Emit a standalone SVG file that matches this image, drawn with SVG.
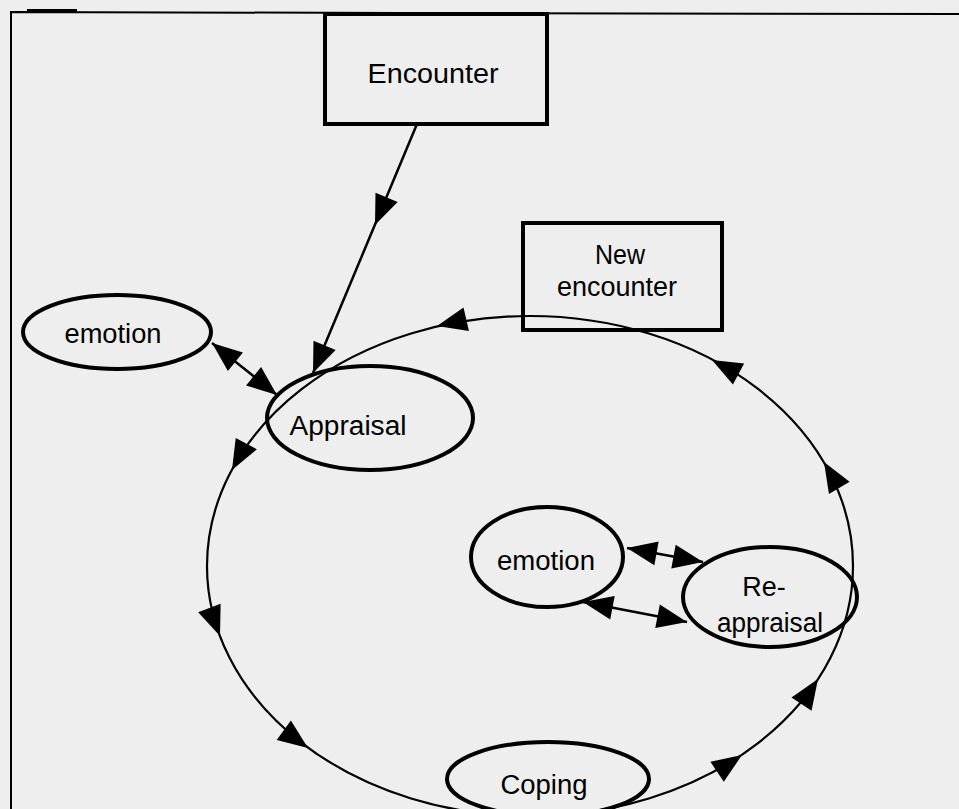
<svg xmlns="http://www.w3.org/2000/svg" xmlns:xlink="http://www.w3.org/1999/xlink" width="959" height="809" viewBox="0 0 959 809">
<style>
.bg{fill:#eeeeee}
.node{fill:none;stroke:#000;stroke-width:4}
.lbl{font-family:"Liberation Sans",Arial,sans-serif;font-size:27px;fill:#000;text-anchor:middle}
.edge{fill:none;stroke:#000;stroke-width:2.5}
.thin{fill:none;stroke:#000;stroke-width:2.2}
.frame{fill:none;stroke:#000;stroke-width:2}
</style>
<defs>
<path id="ah" d="M0,0 L-30,-12 L-30,12 Z" fill="#000"/>
</defs>
<rect class="bg" x="0" y="0" width="959" height="809"/>
<g id="frame">
<path class="frame" d="M11,809 L11,12 L400,13 L959,14"/>
<path d="M27,11 L77,11" stroke="#000" stroke-width="4"/>
</g>
<g id="connectors">
<ellipse class="thin" cx="530" cy="566" rx="323" ry="250"/>
<use xlink:href="#ah" transform="translate(437,326) rotate(166.9)"/>
<use xlink:href="#ah" transform="translate(232,470) rotate(118.4)"/>
<use xlink:href="#ah" transform="translate(220,636) rotate(69.3)"/>
<use xlink:href="#ah" transform="translate(308,748) rotate(36.2)"/>
<use xlink:href="#ah" transform="translate(742,755) rotate(-33.9)"/>
<use xlink:href="#ah" transform="translate(818,679) rotate(-56.7)"/>
<use xlink:href="#ah" transform="translate(824,462) rotate(-120.6)"/>
<use xlink:href="#ah" transform="translate(712,360) rotate(-152.2)"/>
<line class="edge" x1="417" y1="124" x2="313" y2="373"/>
<use xlink:href="#ah" transform="translate(375,225) rotate(112.7)"/>
<use xlink:href="#ah" transform="translate(313,373) rotate(112.7)"/>
<line class="edge" x1="212" y1="343" x2="277" y2="395" stroke-width="3"/>
<use xlink:href="#ah" transform="translate(212,343) rotate(218.7)"/>
<use xlink:href="#ah" transform="translate(277,395) rotate(38.7)"/>
<line class="edge" x1="627" y1="548" x2="703" y2="562" stroke-width="3"/>
<use xlink:href="#ah" transform="translate(627,548) rotate(190.4)"/>
<use xlink:href="#ah" transform="translate(703,562) rotate(10.4)"/>
<line class="edge" x1="583" y1="602" x2="687" y2="622" stroke-width="3"/>
<use xlink:href="#ah" transform="translate(583,602) rotate(190.9)"/>
<use xlink:href="#ah" transform="translate(687,622) rotate(10.9)"/>
</g>
<g id="encounter">
<rect class="node" x="325" y="14" width="222" height="110"/>
<text class="lbl" x="433" y="83" textLength="131" lengthAdjust="spacingAndGlyphs">Encounter</text>
</g>
<g id="new-encounter">
<rect class="node" x="523" y="223" width="199" height="107"/>
<text class="lbl" x="620" y="264" textLength="50" lengthAdjust="spacingAndGlyphs">New</text>
<text class="lbl" x="617" y="296" textLength="120" lengthAdjust="spacingAndGlyphs">encounter</text>
</g>
<g id="emotion-1">
<ellipse class="node" cx="117" cy="332" rx="94" ry="37"/>
<text class="lbl" x="113" y="343" textLength="97" lengthAdjust="spacingAndGlyphs">emotion</text>
</g>
<g id="appraisal">
<ellipse class="node" cx="370" cy="418" rx="103" ry="52"/>
<text class="lbl" x="348" y="435" textLength="117" lengthAdjust="spacingAndGlyphs">Appraisal</text>
</g>
<g id="emotion-2">
<ellipse class="node" cx="547" cy="557" rx="76" ry="50"/>
<text class="lbl" x="546" y="570" textLength="98" lengthAdjust="spacingAndGlyphs">emotion</text>
</g>
<g id="reappraisal">
<ellipse class="node" cx="770" cy="597" rx="87" ry="50"/>
<text class="lbl" x="764" y="596">Re-</text>
<text class="lbl" x="770" y="632" textLength="106" lengthAdjust="spacingAndGlyphs">appraisal</text>
</g>
<g id="coping">
<ellipse class="node" cx="548" cy="779" rx="101" ry="37"/>
<text class="lbl" x="544" y="794" textLength="87" lengthAdjust="spacingAndGlyphs">Coping</text>
</g>
</svg>
